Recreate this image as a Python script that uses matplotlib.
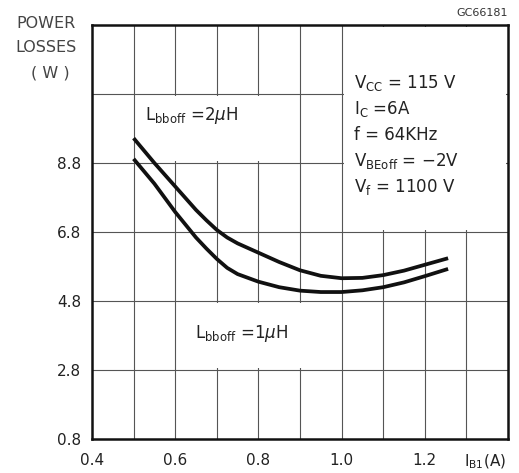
import numpy as np
import matplotlib
matplotlib.use('Agg')
import matplotlib.pyplot as plt
from matplotlib.patches import Rectangle

# values
ib1 = [0.5, 0.55, 0.6, 0.65, 0.675, 0.7, 0.725, 0.75, 0.8, 0.85, 0.9, 0.95, 1.0, 1.05, 1.1, 1.15, 1.2, 1.256]
loss_2uh = [9.52, 8.8, 8.12, 7.44, 7.14, 6.86, 6.64, 6.47, 6.2, 5.93, 5.69, 5.53, 5.46, 5.47, 5.55, 5.68, 5.85, 6.04]
loss_1uh = [8.92, 8.2, 7.38, 6.64, 6.32, 6.02, 5.76, 5.58, 5.36, 5.2, 5.1, 5.06, 5.06, 5.11, 5.2, 5.34, 5.52, 5.73]

xticks = [0.4, 0.6, 0.8, 1.0, 1.2]
yticks = [0.8, 2.8, 4.8, 6.8, 8.8]
xgrid = np.arange(0.5, 1.35, 0.1)
ygrid = [2.8, 4.8, 6.8, 8.8, 10.8]

conditions = [r'V$_{\rm CC}$ = 115 V', r'I$_{\rm C}$ =6A', 'f = 64KHz',
              r'V$_{\rm BEoff}$ = $-$2V', r'V$_{\rm f}$ = 1100 V']

txt = '#222222'

fig = plt.figure(figsize=(5.19, 4.73), dpi=100)
ax = fig.add_axes([92/519, 34/473, 416/519, 414/473])
ax.set_xlim(0.4, 1.4)
ax.set_ylim(0.8, 12.8)

# grid
for x in xgrid:
	ax.axvline(x, color='#555555', lw=0.8, zorder=1)
for y in ygrid:
	ax.axhline(y, color='#555555', lw=0.8, zorder=1)

# blank boxes behind the labels
ex, ey = 0.005, 0.06
for (x0, y0, x1, y1) in [(0.5, 8.8, 0.9, 10.8), (0.6, 2.8, 1.0, 4.8), (1.0, 6.8, 1.4, 12.8)]:
	ax.add_patch(Rectangle((x0+ex, y0+ey), x1-x0-2*ex, y1-y0-2*ey, facecolor='white',
		edgecolor='none', zorder=2))

ax.plot(ib1, loss_2uh, color='#111111', lw=2.7, zorder=3, solid_capstyle='butt', solid_joinstyle='round')
ax.plot(ib1, loss_1uh, color='#111111', lw=2.7, zorder=3, solid_capstyle='butt', solid_joinstyle='round')

for s in ax.spines.values():
	s.set_linewidth(1.8)
	s.set_color('#111111')
	s.set_zorder(4)

ax.set_xticks(xticks)
ax.set_xticklabels(['%.1f' % v for v in xticks])
ax.set_yticks(yticks)
ax.set_yticklabels(['%.1f' % v for v in yticks])
ax.tick_params(length=0, labelsize=11, colors=txt, pad=8)
ax.tick_params(axis='x', pad=10)

fig.text(145/519, 1-115/473, r'L$_{\rm bboff}$ =2$\mu$H', fontsize=12, color=txt, va='center', ha='left')
fig.text(195/519, 1-333/473, r'L$_{\rm bboff}$ =1$\mu$H', fontsize=12, color=txt, va='center', ha='left')

for i, c in enumerate(conditions):
	fig.text(354/519, 1-(83+26*i)/473, c, fontsize=12, color=txt, va='center', ha='left')

fig.text(46/519, 1-24/473, 'POWER', fontsize=11.5, color='#444444', ha='center', va='center')
fig.text(46/519, 1-48/473, 'LOSSES', fontsize=11.5, color='#444444', ha='center', va='center')
fig.text(50/519, 1-73/473, '( W )', fontsize=11.5, color='#444444', ha='center', va='center')
fig.text(508/519, 1-13/473, 'GC66181', fontsize=8, color='#333333', ha='right', va='center')
fig.text(485/519, 1-462/473, r'I$_{\rm B1}$(A)', fontsize=11, color=txt, ha='center', va='center')

fig.savefig('out.png', dpi=100)
